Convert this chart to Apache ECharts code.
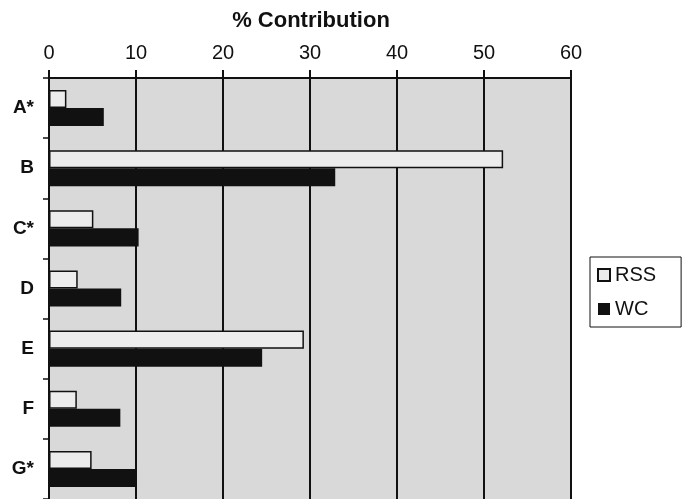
<!DOCTYPE html>
<html><head><meta charset="utf-8">
<script src="https://cdn.jsdelivr.net/npm/echarts@6/dist/echarts.min.js"></script>
<style>html,body{margin:0;padding:0;background:#fff}#c{width:683px;height:499px}</style>
</head><body><div id="c"></div>
<script>
const categories = ['A*', 'B', 'C*', 'D', 'E', 'F', 'G*'];
const rss = [2.0, 52.2, 5.1, 3.3, 29.3, 3.2, 4.9];
const wc = [6.3, 32.9, 10.3, 8.3, 24.5, 8.2, 10.1];
const xTicks = [0, 10, 20, 30, 40, 50, 60];

const chart = echarts.init(document.getElementById('c'), null, {renderer: 'canvas'});
const font = "'Liberation Sans', Arial, sans-serif";
chart.setOption({
  animation: false,
  backgroundColor: '#fff',
  title: {
    text: '% Contribution', left: 306, top: 5, textAlign: 'center',
    textStyle: {fontFamily: font, fontSize: 22, fontWeight: 'bold', color: '#111'}
  },
  legend: {
    orient: 'vertical', left: 590, top: 257,
    data: [{name: 'RSS', icon: 'rect'}, {name: 'WC', icon: 'rect'}],
    itemWidth: 12, itemHeight: 12, itemGap: 14,
    padding: [8, 25, 8, 7],
    borderColor: '#111', borderWidth: 1,
    textStyle: {fontFamily: font, fontSize: 20, color: '#111'}
  },
  grid: {left: 49, right: 112, top: 78, bottom: 0, show: true, backgroundColor: '#d9d9d9', borderWidth: 0},
  xAxis: {
    type: 'value', position: 'top', min: 0, max: 60, interval: 10,
    axisLine: {show: true, lineStyle: {color: '#111', width: 2}},
    axisTick: {show: true, inside: false, length: 8, lineStyle: {color: '#111', width: 2}},
    axisLabel: {fontFamily: font, fontSize: 20, color: '#111', margin: 15,
      formatter: v => xTicks.includes(v) ? String(v) : ''},
    splitLine: {show: true, lineStyle: {color: '#111', width: 2}}
  },
  yAxis: {
    type: 'category', data: categories, inverse: true,
    axisLine: {show: true, lineStyle: {color: '#111', width: 2}},
    axisTick: {show: true, length: 6, lineStyle: {color: '#111', width: 1.5}},
    axisLabel: {fontFamily: font, fontSize: 19, fontWeight: 'bold', color: '#111', margin: 15}
  },
  series: [
    {name: 'RSS', type: 'bar', data: rss, barGap: '0%', barCategoryGap: '40%',
      itemStyle: {color: '#ececec', borderColor: '#111', borderWidth: 1.5}},
    {name: 'WC', type: 'bar', data: wc,
      itemStyle: {color: '#111', borderColor: '#111', borderWidth: 0}}
  ]
});
</script></body></html>
